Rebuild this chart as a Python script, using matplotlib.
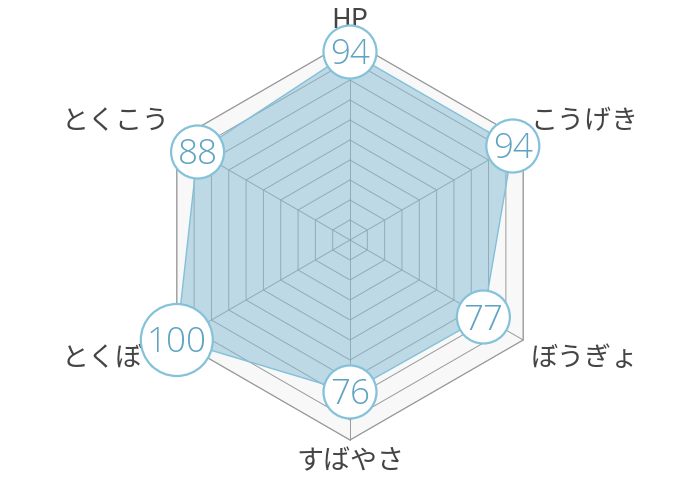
import numpy as np
import matplotlib.pyplot as plt
from matplotlib.patches import Polygon, Circle

plt.rcParams['font.family'] = ['Noto Sans CJK JP', 'DejaVu Sans']

# ステータス
labels = ['HP', 'こうげき', 'ぼうぎょ', 'すばやさ', 'とくぼう', 'とくこう']
values = [94, 94, 77, 76, 100, 88]
max_val = 100
levels = list(range(10, 101, 10))

n = len(labels)
angles = np.deg2rad(90 - 360 / n * np.arange(n))
ux, uy = np.cos(angles), np.sin(angles)

fig = plt.figure(figsize=(7, 4.8), dpi=100)
ax = fig.add_axes([0, 0, 1, 1])
# 1 data unit = 2 px, centre of chart at (350, 240) px
ax.set_xlim(-175, 175)
ax.set_ylim(-120, 120)
ax.set_aspect('equal')
ax.axis('off')

# background hexagon
bg = Polygon(np.c_[ux, uy] * max_val, closed=True, facecolor='#f8f8f8',
             edgecolor='#aaaaaa', lw=0.8, zorder=1)
ax.add_patch(bg)

# grid rings and spokes
for lv in levels:
    xs = np.append(ux, ux[0]) * lv
    ys = np.append(uy, uy[0]) * lv
    ax.plot(xs, ys, color='#9a9a9a', lw=0.7, zorder=2)
for i in range(n):
    ax.plot([0, ux[i] * max_val], [0, uy[i] * max_val], color='#9a9a9a', lw=0.7, zorder=2)

# data polygon
v = np.array(values, dtype=float)
pts = np.c_[ux * v, uy * v]
ax.add_patch(Polygon(pts, closed=True, facecolor='#84bcd4', alpha=0.5,
                     edgecolor='none', zorder=3))
ax.add_patch(Polygon(pts, closed=True, facecolor='none',
                     edgecolor='#82c0d9', lw=1.0, zorder=4))

# axis labels
fs_lab = 27 * 0.72
offsets = [(0, 20, 'center'), (7, 18, 'left'), (7, -18, 'left'),
           (0, -22, 'center'), (-7, -18, 'right'), (-7, 18, 'right')]
for i, lab in enumerate(labels):
    dx, dy, ha = offsets[i]
    ax.annotate(lab, (ux[i] * max_val, uy[i] * max_val), xytext=(dx, dy),
                textcoords='offset pixels', ha=ha, va='center',
                fontsize=fs_lab, color='#444444', zorder=5)

# value bubbles
fs_num = 35 * 0.72
for i, val in enumerate(values):
    txt = str(val)
    r = (9.5 * len(txt) + 7.5) / 2  # px -> data units
    ax.add_patch(Circle((pts[i, 0], pts[i, 1]), r, facecolor='white',
                        edgecolor='#84c2da', lw=1.6, zorder=6))
    ax.annotate(txt, (pts[i, 0], pts[i, 1]), xytext=(0, -12.5),
                textcoords='offset pixels', ha='center', va='baseline',
                fontsize=fs_num, color='#5ea4c2', family='Open Sans',
                fontweight='light', zorder=7)

fig.savefig('out.png', dpi=100)
